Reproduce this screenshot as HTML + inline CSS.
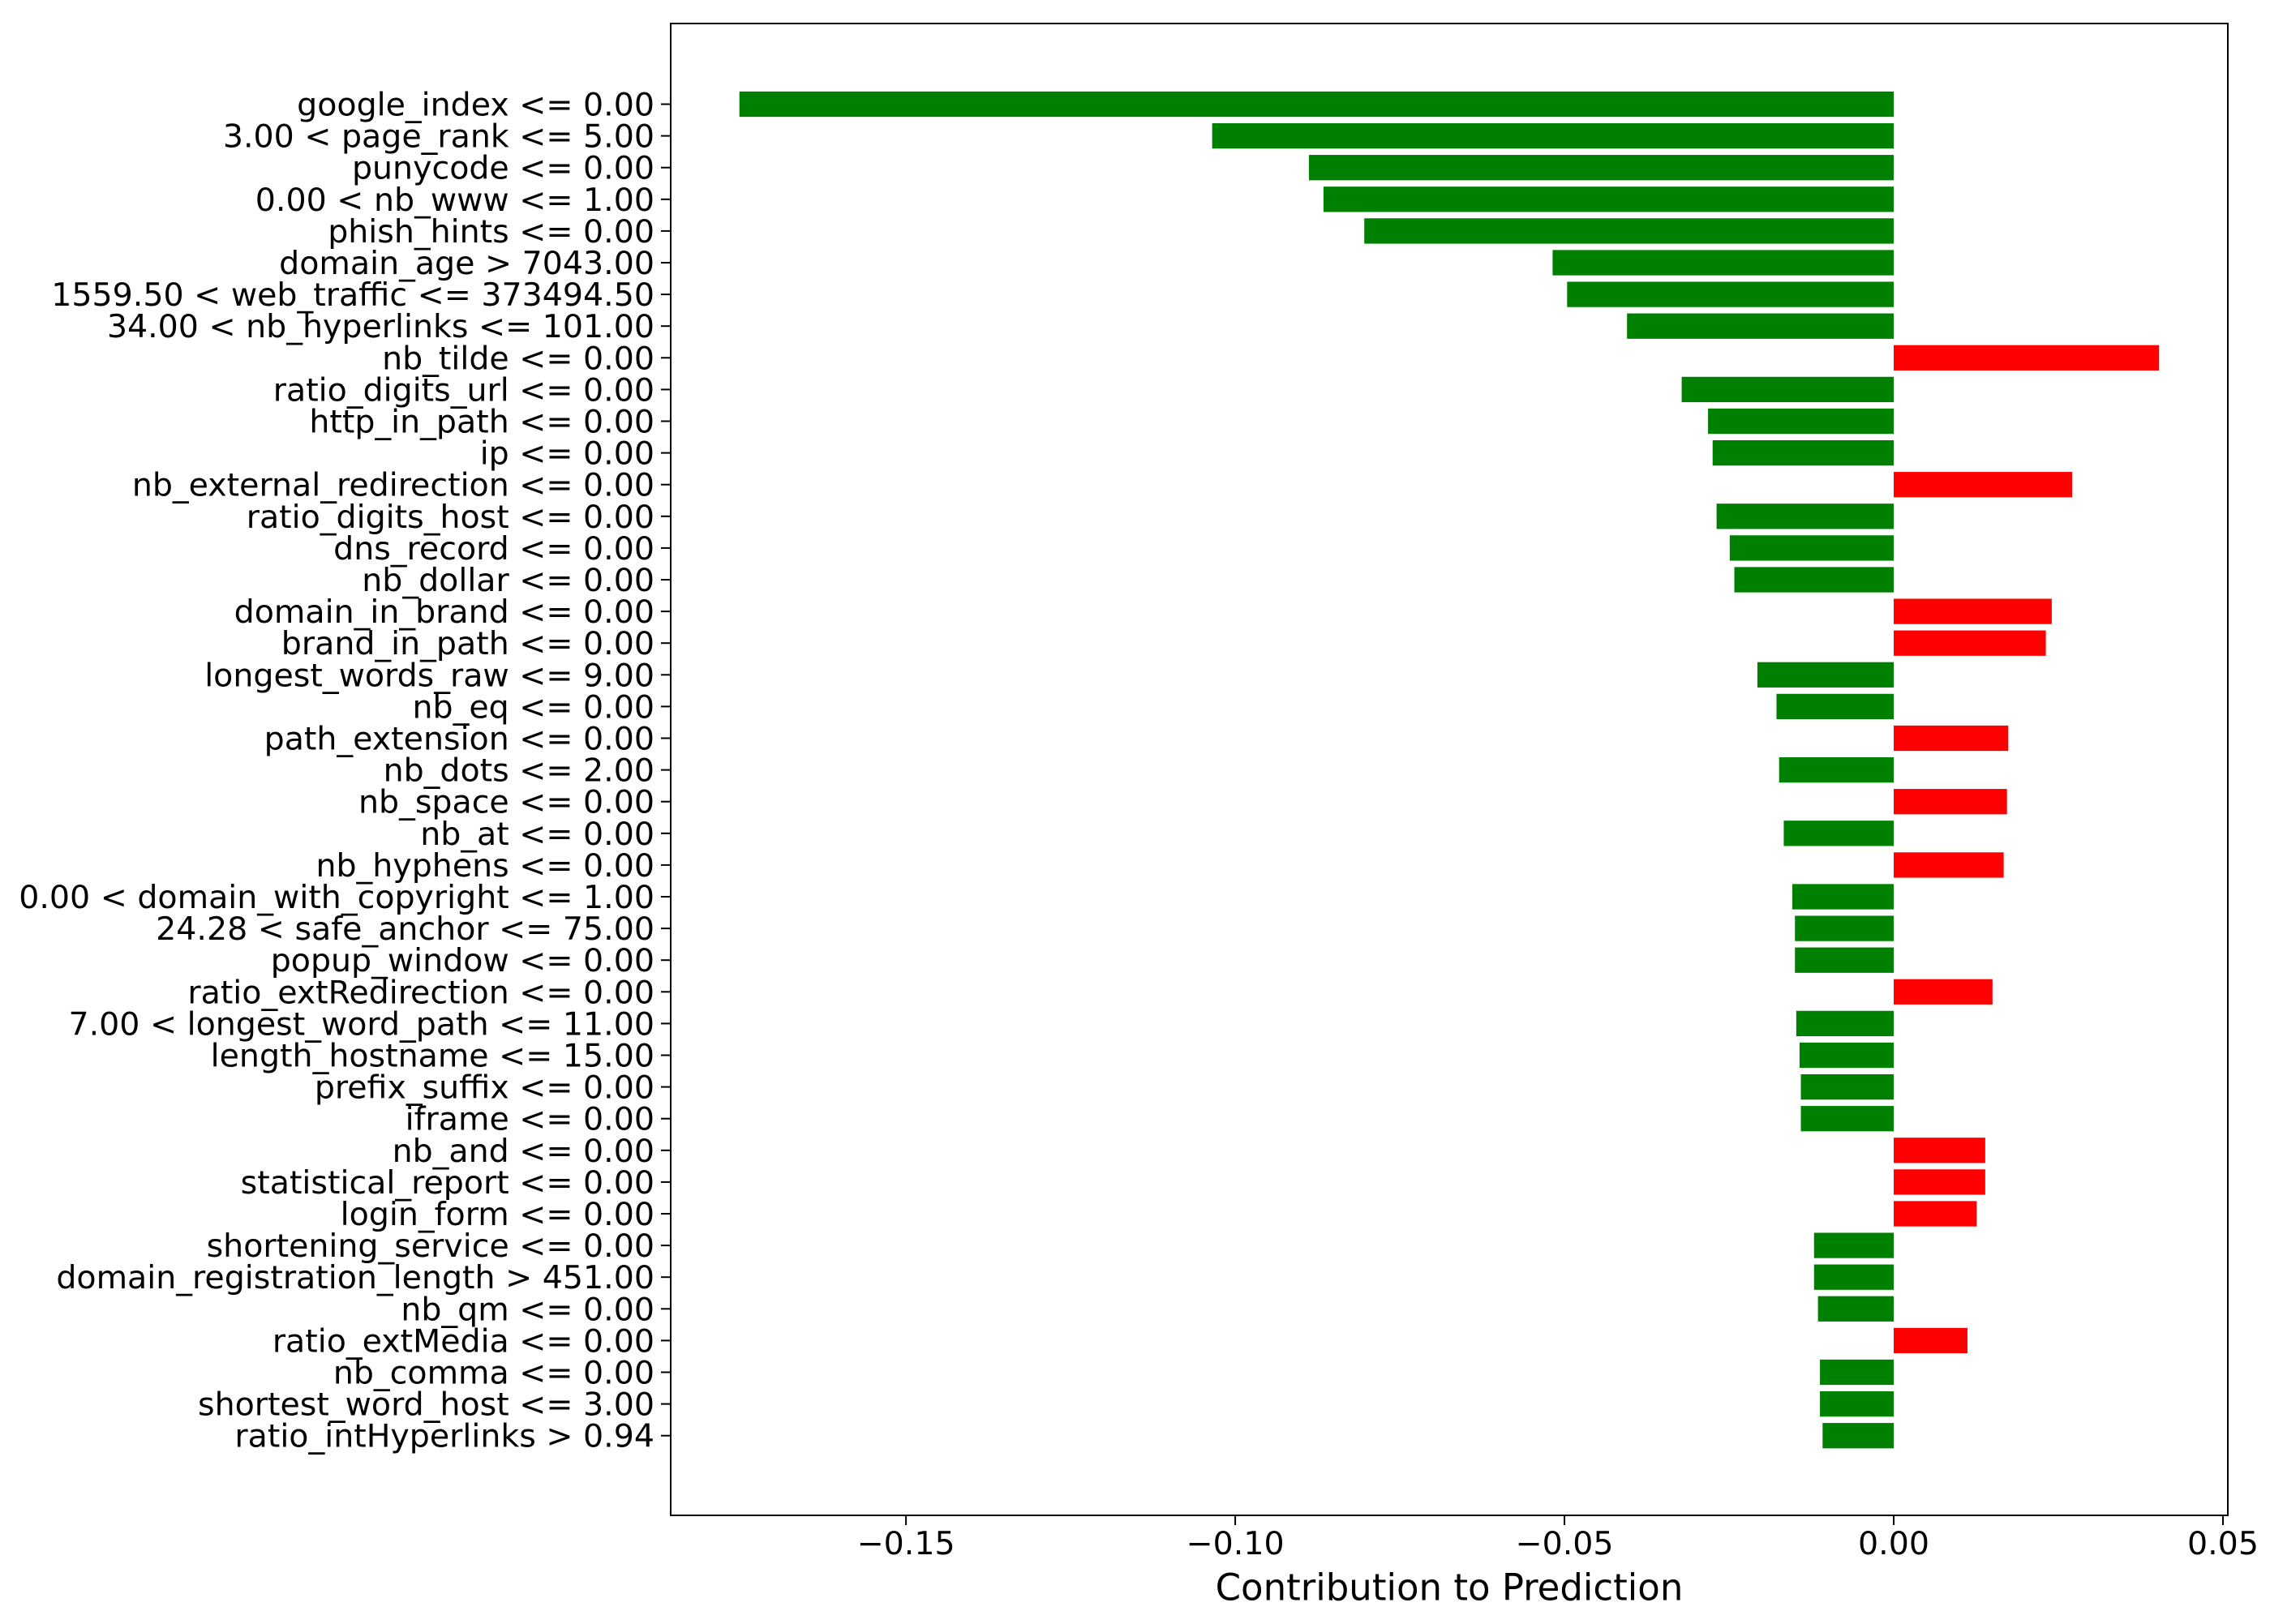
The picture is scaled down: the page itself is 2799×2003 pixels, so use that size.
<!DOCTYPE html>
<html><head><meta charset="utf-8"><style>
html,body{margin:0;padding:0;background:#fff;}
svg text{font-family:"DejaVu Sans","Liberation Sans",sans-serif;fill:#000;}
</style></head><body>
<svg id="chart" width="2799" height="1998" xmlns="http://www.w3.org/2000/svg"></svg>
<script>
const categories = ["google_index <= 0.00","3.00 < page_rank <= 5.00","punycode <= 0.00","0.00 < nb_www <= 1.00","phish_hints <= 0.00","domain_age > 7043.00","1559.50 < web_traffic <= 373494.50","34.00 < nb_hyperlinks <= 101.00","nb_tilde <= 0.00","ratio_digits_url <= 0.00","http_in_path <= 0.00","ip <= 0.00","nb_external_redirection <= 0.00","ratio_digits_host <= 0.00","dns_record <= 0.00","nb_dollar <= 0.00","domain_in_brand <= 0.00","brand_in_path <= 0.00","longest_words_raw <= 9.00","nb_eq <= 0.00","path_extension <= 0.00","nb_dots <= 2.00","nb_space <= 0.00","nb_at <= 0.00","nb_hyphens <= 0.00","0.00 < domain_with_copyright <= 1.00","24.28 < safe_anchor <= 75.00","popup_window <= 0.00","ratio_extRedirection <= 0.00","7.00 < longest_word_path <= 11.00","length_hostname <= 15.00","prefix_suffix <= 0.00","iframe <= 0.00","nb_and <= 0.00","statistical_report <= 0.00","login_form <= 0.00","shortening_service <= 0.00","domain_registration_length > 451.00","nb_qm <= 0.00","ratio_extMedia <= 0.00","nb_comma <= 0.00","shortest_word_host <= 3.00","ratio_intHyperlinks > 0.94"];
const values = [-0.1753,-0.1035,-0.0888,-0.0866,-0.0804,-0.0518,-0.0496,-0.0405,0.0403,-0.0322,-0.0282,-0.0275,0.0271,-0.0269,-0.0249,-0.0242,0.0240,0.0231,-0.0207,-0.0178,0.0174,-0.0174,0.0172,-0.0167,0.0167,-0.0154,-0.0150,-0.0150,0.0150,-0.0148,-0.0143,-0.0141,-0.0141,0.0139,0.0139,0.0126,-0.0121,-0.0121,-0.0115,0.0112,-0.0112,-0.0112,-0.0108];
const xTicks = [-0.15,-0.10,-0.05,0.00,0.05];
const xTickLabels = ["\u22120.15","\u22120.10","\u22120.05","0.00","0.05"];

const NS="http://www.w3.org/2000/svg";
const svg=document.getElementById('chart');
const L=827,R=2747,T=29,B=1869;
const xMin=-0.18573,xMax=0.05074;
function xs(v){return L+(v-xMin)/(xMax-xMin)*(R-L);}
const y0=128.5,step=39.1;
function ys(i){return y0+i*step;}
function mk(tag,attrs){const e=document.createElementNS(NS,tag);for(const k in attrs)e.setAttribute(k,attrs[k]);svg.appendChild(e);return e;}

values.forEach((v,i)=>{
  const x1=xs(Math.min(0,v)),x2=xs(Math.max(0,v));
  const r=mk('rect',{x:x1,y:ys(i)-step*0.4,width:x2-x1,height:step*0.8,fill:v<0?'#008000':'#ff0000'});
  
  
  const t=mk('line',{x1:L,x2:L-12,y1:ys(i),y2:ys(i),stroke:'#000','stroke-width':2});
  
  
  const lb=mk('text',{x:L-20,y:ys(i)+1,'text-anchor':'end','dominant-baseline':'central','font-size':39.5});
  lb.textContent=categories[i];
  
  
});
xTicks.forEach((v,i)=>{
  const t=mk('line',{x1:xs(v),x2:xs(v),y1:B,y2:B+12,stroke:'#000','stroke-width':2});
  
  
  const lb=mk('text',{x:xs(v),y:1904,'text-anchor':'middle','dominant-baseline':'central','font-size':39.5});
  lb.textContent=xTickLabels[i];
  
  
});
const frame=mk('rect',{x:L,y:T,width:R-L,height:B-T,fill:'none',stroke:'#000','stroke-width':2});


const xl=mk('text',{x:(L+R)/2,y:1958,'text-anchor':'middle','dominant-baseline':'central','font-size':45});
xl.textContent='Contribution to Prediction';


</script>
</body></html>
